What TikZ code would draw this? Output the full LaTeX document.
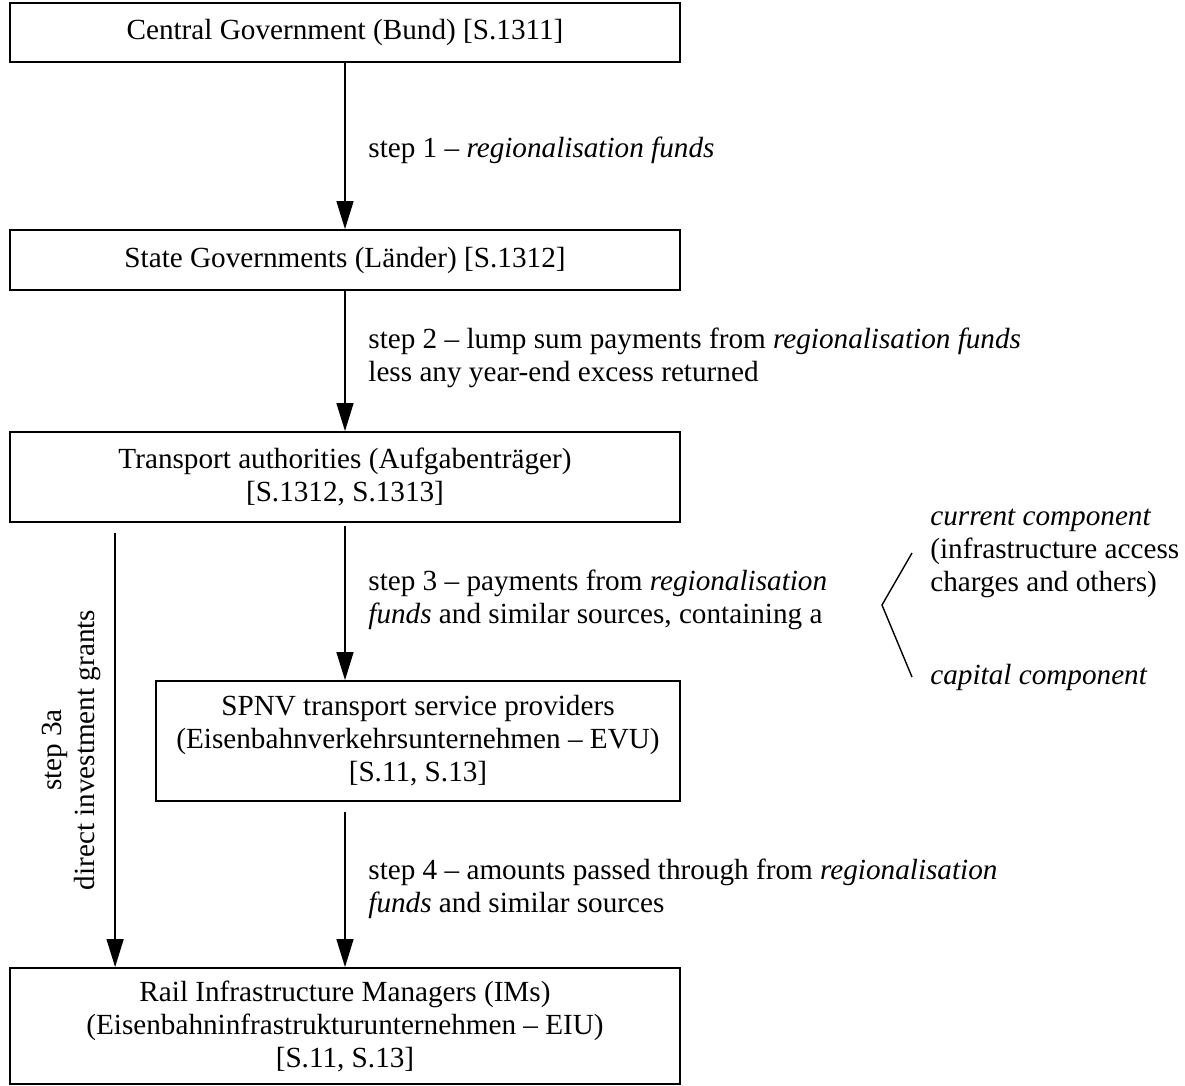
\documentclass[tikz,border=0pt]{standalone}
\usepackage{fontspec}
\setmainfont{Liberation Serif}
\usetikzlibrary{arrows.meta}

\begin{document}
\begin{tikzpicture}[x=0.5pt,y=-0.5pt,
  every node/.style={font=\fontsize{14.6}{16.5}\selectfont},
  box/.style={draw=black,line width=0.9pt,minimum width=335pt,align=center,inner sep=0pt},
  lbl/.style={anchor=west,align=left,inner sep=0pt},
  flow/.style={-{Triangle[length=14pt,width=8.5pt]},line width=0.7pt}]
\useasboundingbox (0,0) rectangle (1185,1086);

\node[box,minimum height=29.5pt] (bund) at (345,32.5) {Central Government (Bund) [S.1311]};
\node[box,minimum height=30pt] (laender) at (345,260) {State Governments (L\"ander) [S.1312]};
\node[box,minimum height=45pt] (auftr) at (345,477) {Transport authorities (Aufgabentr\"ager)\\{[S.1312, S.1313]}};
\node[box,minimum width=262pt,minimum height=60pt] (evu) at (418,741) {SPNV transport service providers\\(Eisenbahnverkehrsunternehmen -- EVU)\\{[S.11, S.13]}};
\node[box,minimum height=58pt] (eiu) at (345,1026) {Rail Infrastructure Managers (IMs)\\(Eisenbahninfrastrukturunternehmen -- EIU)\\{[S.11, S.13]}};

\node[lbl] (s1) at (368,150) {step 1 -- \textit{regionalisation funds}};
\node[lbl] (s2) at (368,358) {step 2 -- lump sum payments from \textit{regionalisation funds}\\less any year-end excess returned};
\node[lbl] (s3) at (368,600) {step 3 -- payments from \textit{regionalisation}\\\textit{funds} and similar sources, containing a};
\node[lbl] (s4) at (368,889) {step 4 -- amounts passed through from \textit{regionalisation}\\\textit{funds} and similar sources};
\node[lbl] (cur) at (930,553) {\textit{current component}\\(infrastructure access\\charges and others)};
\node[lbl] (cap) at (930,677) {\textit{capital component}};
\node[rotate=90,align=center,inner sep=0pt] (s3a) at (71,750) {step 3a\\direct investment grants};

% bracket
\draw[line width=0.7pt] (912,553) -- (882,605) -- (912,677);

\draw[flow] (bund) to (laender);
\draw[flow] (laender) to (auftr);
\draw[flow,shorten <=1.5pt] (auftr.south) to (auftr.south |- evu.north);
\draw[flow,shorten <=5pt] ([xshift=53pt]auftr.south west) to ([xshift=53pt]eiu.north west);
\draw[flow,shorten <=5pt] (evu.south -| auftr.south) to (auftr.south |- eiu.north);
\end{tikzpicture}
\end{document}
